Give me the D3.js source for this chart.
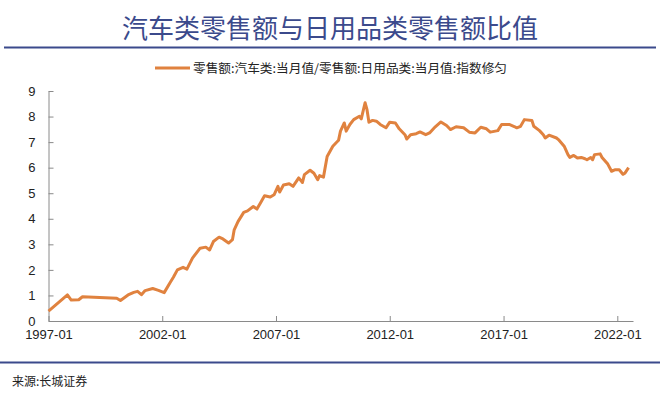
<!DOCTYPE html>
<html><head><meta charset="utf-8">
<script src="https://cdn.jsdelivr.net/npm/d3@7"></script>
<style>
body{margin:0;background:#fff;}
svg{display:block;font-family:"Liberation Sans",Arial,sans-serif;}
</style></head>
<body><svg id="c" width="660" height="400"></svg>
<script>
const titleText = "汽车类零售额与日用品类零售额比值";
const legendText = "零售额:汽车类:当月值/零售额:日用品类:当月值:指数修匀";
const sourceText = "来源:长城证券";
const yTicks = [0,1,2,3,4,5,6,7,8,9];
const xTickYears = ["1997-01","2002-01","2007-01","2012-01","2017-01","2022-01"];
const months = ["1997-01","1997-11","1998-01","1998-05","1998-07","2000-01","2000-03","2000-07","2000-10","2000-12",
"2001-02","2001-04","2001-08","2001-11","2002-02","2002-05","2002-07","2002-09","2002-12",
"2003-02","2003-05","2003-09","2003-12","2004-02","2004-04","2004-07","2004-09","2004-12",
"2005-02","2005-03","2005-05","2005-08","2005-10","2006-01","2006-03","2006-05","2006-07","2006-10","2006-12",
"2007-02","2007-03","2007-05","2007-08","2007-10","2008-01","2008-03","2008-04","2008-07","2008-09","2008-11","2008-12",
"2009-02","2009-04","2009-07","2009-10","2009-11","2010-01","2010-02","2010-04","2010-06","2010-09","2010-10","2010-12",
"2011-01","2011-02","2011-04","2011-06","2011-08","2011-11","2012-01","2012-04","2012-06","2012-09","2012-10","2012-12",
"2013-03","2013-05","2013-08","2013-10","2014-01","2014-04","2014-07","2014-09","2014-12",
"2015-04","2015-07","2015-10","2016-01","2016-04","2016-06","2016-10","2016-12",
"2017-04","2017-07","2017-08","2017-10","2017-12","2018-04","2018-05","2018-08","2018-10","2018-11",
"2019-01","2019-05","2019-06","2019-09","2019-11","2019-12","2020-02","2020-04","2020-06","2020-08","2020-09","2020-11","2020-12",
"2021-01","2021-04","2021-05","2021-08","2021-10","2021-12","2022-02","2022-04","2022-05","2022-07"];
const ratio = [0.39,1.02,0.82,0.83,0.95,0.89,0.80,1.02,1.12,1.16,
1.03,1.19,1.27,1.20,1.11,1.48,1.72,2.00,2.10,
2.03,2.46,2.85,2.89,2.78,3.11,3.28,3.21,3.05,
3.18,3.57,3.89,4.25,4.31,4.48,4.38,4.64,4.90,4.85,4.94,
5.27,5.05,5.32,5.37,5.27,5.60,5.42,5.73,5.90,5.78,5.53,5.69,
5.63,6.44,6.84,7.07,7.43,7.75,7.43,7.69,7.88,8.01,7.91,8.54,
8.27,7.78,7.85,7.82,7.69,7.56,7.78,7.75,7.52,7.29,7.12,7.29,
7.33,7.40,7.29,7.36,7.60,7.79,7.65,7.49,7.60,
7.56,7.39,7.36,7.58,7.52,7.39,7.45,7.69,
7.69,7.60,7.56,7.62,7.88,7.85,7.62,7.45,7.29,7.16,
7.27,7.16,7.10,6.84,6.51,6.40,6.48,6.38,6.40,6.35,6.31,6.40,6.31,
6.51,6.54,6.40,6.14,5.86,5.92,5.92,5.74,5.78,6.00];

const parse = d3.timeParse("%Y-%m");
const data = months.map((m,i)=>({date:parse(m), v:ratio[i]}));
const svg = d3.select("#c");
const blue = "#3b4a8c";

svg.append("text").attr("x",330).attr("y",38).attr("text-anchor","middle")
  .attr("font-family","'Noto Sans CJK SC',sans-serif").attr("font-size",26).attr("fill",blue)
  .text(titleText);
svg.append("line").attr("x1",4).attr("x2",656).attr("y1",47.5).attr("y2",47.5)
  .attr("stroke",blue).attr("stroke-width",2);

// legend
svg.append("line").attr("x1",155).attr("x2",190).attr("y1",68).attr("y2",68)
  .attr("stroke","#E0823F").attr("stroke-width",3);
svg.append("text").attr("x",193).attr("y",72.5)
  .attr("font-family","'Noto Sans CJK SC',sans-serif").attr("font-size",12).attr("fill","#222")
  .attr("textLength",314).attr("lengthAdjust","spacingAndGlyphs")
  .text(legendText);

const x = d3.scaleTime().domain([parse("1997-01"), new Date(2022,8,10)]).range([48.5, 633]);
const y = d3.scaleLinear().domain([0,9]).range([321, 91]);

const gx = svg.append("g").attr("transform","translate(0,321)")
  .call(d3.axisBottom(x).tickValues(xTickYears.map(parse)).tickFormat(d3.timeFormat("%Y-%m"))
    .tickSizeInner(-5).tickSizeOuter(0).tickPadding(9));
const gy = svg.append("g").attr("transform","translate(48.5,0)")
  .call(d3.axisLeft(y).tickValues(yTicks).tickFormat(d3.format("d"))
    .tickSizeInner(-5).tickSizeOuter(0).tickPadding(13));
[gx,gy].forEach(g=>{
  g.select(".domain").attr("stroke","#8a8a8a");
  g.selectAll(".tick line").attr("stroke","#8a8a8a");
  g.selectAll(".tick text").attr("font-size",13).attr("fill","#222")
   .attr("font-family","'Liberation Sans',Arial,sans-serif");
});

const line = d3.line().x(d=>x(d.date)).y(d=>y(d.v));
svg.append("path").datum(data).attr("d",line).attr("fill","none")
  .attr("stroke","#E0823F").attr("stroke-width",3).attr("stroke-linejoin","round");

svg.append("line").attr("x1",0).attr("x2",660).attr("y1",362.5).attr("y2",362.5)
  .attr("stroke",blue).attr("stroke-width",2);
svg.append("text").attr("x",12).attr("y",386)
  .attr("font-family","'Noto Sans CJK SC',sans-serif").attr("font-size",12).attr("fill","#222")
  .text(sourceText);
</script></body></html>
